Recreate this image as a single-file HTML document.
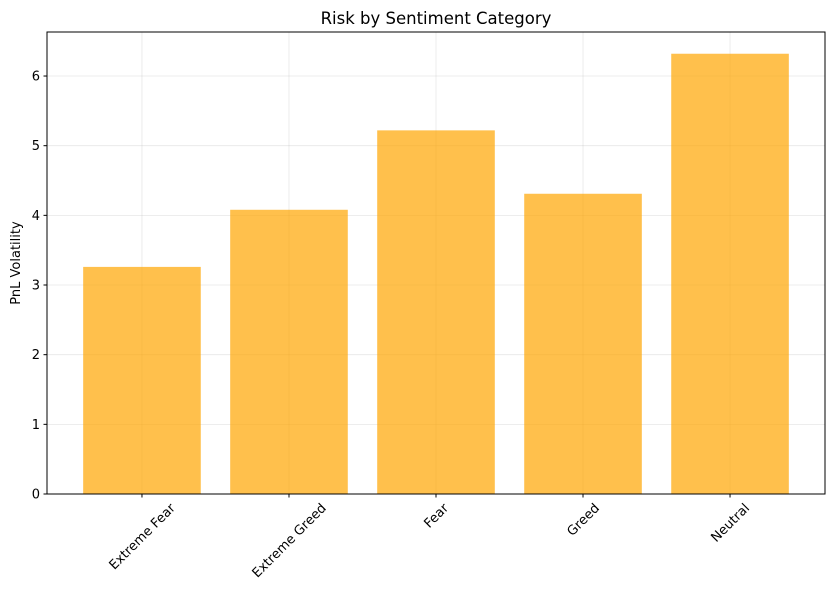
<!DOCTYPE html>
<html><head><meta charset="utf-8"><style>
html,body{margin:0;padding:0;background:#fff;}
svg{display:block;font-family:"DejaVu Sans","Liberation Sans",sans-serif;}
</style></head><body>
<svg id="chart" width="833" height="598" viewBox="0 0 833 598" xmlns="http://www.w3.org/2000/svg"></svg>
<script>
const categories = ["Extreme Fear","Extreme Greed","Fear","Greed","Neutral"];
const volatility = [3.26, 4.08, 5.22, 4.31, 6.32];
const yTicks = [0,1,2,3,4,5,6];

const svg = document.getElementById('chart');
const NS = 'http://www.w3.org/2000/svg';
const L=47, R=825, T=32, B=494;
const xMin=-0.646, xMax=categories.length-1+0.646;
const yMax=6.632;
const x = i => L + (i - xMin)/(xMax-xMin)*(R-L);
const y = v => B - v/yMax*(B-T);
const step = x(1)-x(0);
function mk(tag, attrs, parent){ const e=document.createElementNS(NS,tag); for(const k in attrs) e.setAttribute(k,attrs[k]); (parent||svg).appendChild(e); return e; }

const grid = mk('g',{});


yTicks.forEach(v=>{ const l=mk('line',{x1:L,x2:R,y1:y(v),y2:y(v),stroke:'#b0b0b0','stroke-opacity':0.3,'stroke-width':0.8},grid);

 });
categories.forEach((c,i)=>{ const l=mk('line',{x1:x(i),x2:x(i),y1:T,y2:B,stroke:'#b0b0b0','stroke-opacity':0.3,'stroke-width':0.8},grid);

 });

volatility.forEach((v,i)=>{ const w=step*0.8;
const r=mk('rect',{x:x(i)-w/2,y:y(v),width:w,height:B-y(v),fill:'#FFA500','fill-opacity':0.7});

 });

const frame=mk('rect',{x:L,y:T,width:R-L,height:B-T,fill:'none',stroke:'#000','stroke-width':1});



yTicks.forEach(v=>{ mk('line',{x1:L-3.5,x2:L,y1:y(v),y2:y(v),stroke:'#000'});
const t=mk('text',{x:L-7,y:y(v)+4.5,'text-anchor':'end','font-size':13,fill:'#000'}); t.textContent=v;

 });

categories.forEach((c,i)=>{ mk('line',{x1:x(i),x2:x(i),y1:B,y2:B+3.5,stroke:'#000'});
const t=mk('text',{x:0,y:0,'text-anchor':'middle','font-size':13,fill:'#000'}); t.textContent=c;
const w=t.getComputedTextLength(), h=13;
const half=(w+h)*0.7071/2;
const cx=x(i), cy=B+7+half;
t.setAttribute('x',cx); t.setAttribute('y',cy+4.5);
t.setAttribute('transform',`rotate(-45 ${cx} ${cy})`);

 });

const yl=mk('text',{x:20,y:(T+B)/2,'text-anchor':'middle','font-size':13,transform:`rotate(-90 20 ${(T+B)/2})`}); yl.textContent='PnL Volatility';



const title=mk('text',{x:(L+R)/2,y:24,'text-anchor':'middle','font-size':16.5}); title.textContent='Risk by Sentiment Category';


</script>
</body></html>
